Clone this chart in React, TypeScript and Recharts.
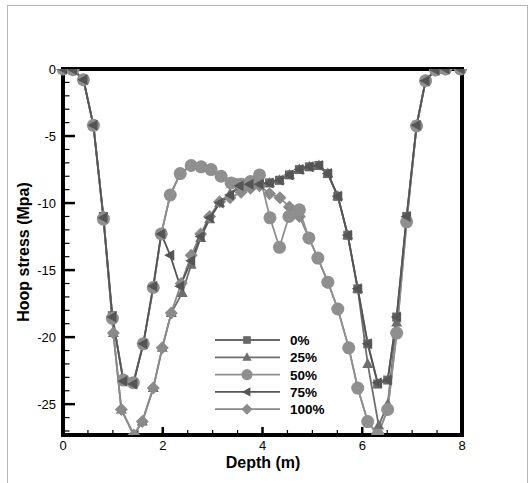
import React from 'react'
import { LineChart, Line, XAxis, YAxis, ReferenceArea, ReferenceLine } from 'recharts'

// depth (m) / hoop stress (MPa)
const depth0 = [0, 0.2, 0.41, 0.61, 0.81, 0.99, 1.21, 1.41, 1.61, 1.81, 1.97, 2.15, 2.35, 2.57, 2.77, 2.97, 3.17, 3.37, 3.54, 3.74, 3.94, 4.14, 4.34, 4.54, 4.74, 4.94, 5.13, 5.31, 5.51, 5.71, 5.91, 6.11, 6.31, 6.51, 6.69, 6.89, 7.09, 7.27, 7.47, 7.67, 7.97]
const stress0 = [0, -0.05, -0.8, -4.2, -11.0, -18.4, -23.2, -23.4, -20.5, -16.3, -12.3, -9.4, -7.8, -7.2, -7.3, -7.5, -8.0, -8.5, -8.5, -8.6, -8.6, -8.5, -8.3, -7.9, -7.5, -7.3, -7.2, -7.8, -9.5, -12.4, -16.4, -20.5, -23.5, -23.2, -18.5, -11.0, -4.2, -0.87, -0.07, 0, 0]

const depth25 = [0, 0.2, 0.41, 0.61, 0.81, 1.01, 1.17, 1.42, 1.59, 1.81, 1.99, 2.17, 2.39, 2.57, 2.76, 2.94, 3.14, 3.35, 3.54, 3.74, 3.94, 4.14, 4.34, 4.54, 4.74, 4.94, 5.13, 5.31, 5.51, 5.71, 5.91, 6.11, 6.33, 6.51, 6.69, 6.89, 7.09, 7.27, 7.47, 7.67, 7.97]
const stress25 = [0, -0.05, -0.8, -4.2, -11.0, -19.7, -25.4, -27.3, -26.3, -23.8, -20.8, -18.2, -16.7, -14.6, -12.6, -11.2, -10.0, -9.3, -8.8, -8.7, -8.6, -8.5, -8.3, -7.9, -7.5, -7.3, -7.2, -7.8, -9.5, -12.4, -16.4, -22.0, -26.6, -25.0, -18.9, -11.2, -4.2, -0.87, -0.07, 0, 0]

const depth50 = [0, 0.2, 0.41, 0.61, 0.81, 0.99, 1.21, 1.41, 1.61, 1.81, 1.97, 2.15, 2.35, 2.57, 2.77, 2.97, 3.17, 3.37, 3.57, 3.76, 3.94, 4.15, 4.34, 4.53, 4.74, 4.93, 5.11, 5.31, 5.51, 5.73, 5.91, 6.11, 6.31, 6.51, 6.69, 6.89, 7.09, 7.27, 7.47, 7.67, 7.97]
const stress50 = [0, -0.05, -0.8, -4.2, -11.2, -18.6, -23.2, -23.4, -20.5, -16.3, -12.3, -9.4, -7.8, -7.2, -7.3, -7.5, -8.0, -8.5, -8.6, -8.4, -7.9, -11.1, -13.3, -11.0, -10.5, -12.6, -14.1, -15.9, -17.9, -20.8, -23.8, -26.3, -27.3, -25.4, -19.7, -11.4, -4.25, -0.87, -0.07, 0, 0]

const depth75 = [0, 0.2, 0.41, 0.61, 0.81, 0.99, 1.21, 1.41, 1.61, 1.81, 1.97, 2.15, 2.35, 2.57, 2.76, 2.94, 3.14, 3.35, 3.54, 3.74, 3.94, 4.14, 4.34, 4.54, 4.74, 4.94, 5.13, 5.31, 5.51, 5.71, 5.91, 6.11, 6.31, 6.51, 6.69, 6.89, 7.09, 7.27, 7.47, 7.67, 7.97]
const stress75 = [0, -0.05, -0.8, -4.2, -11.1, -18.5, -23.3, -23.5, -20.5, -16.2, -12.3, -13.9, -16.2, -14.3, -12.5, -11.1, -10.0, -9.4, -8.7, -8.6, -8.6, -8.5, -8.3, -7.9, -7.5, -7.3, -7.2, -7.8, -9.5, -12.4, -16.4, -20.5, -23.4, -23.2, -18.5, -11.0, -4.2, -0.87, -0.07, 0, 0]

const depth100 = [0, 0.2, 0.41, 0.61, 0.81, 1.01, 1.17, 1.42, 1.59, 1.81, 1.99, 2.17, 2.37, 2.57, 2.76, 2.94, 3.14, 3.35, 3.57, 3.76, 3.94, 4.14, 4.35, 4.54, 4.74, 4.93, 5.11, 5.31, 5.51, 5.73, 5.91, 6.11, 6.31, 6.51, 6.69, 6.89, 7.09, 7.27, 7.47, 7.67, 7.97]
const stress100 = [0, -0.05, -0.8, -4.2, -11.0, -19.7, -25.4, -27.3, -26.3, -23.8, -20.8, -18.2, -16.0, -13.9, -12.3, -11.0, -9.9, -9.6, -9.2, -8.9, -8.7, -9.3, -9.6, -10.3, -11.0, -12.6, -14.1, -15.9, -17.9, -20.8, -23.8, -26.3, -27.3, -25.4, -19.7, -11.4, -4.25, -0.87, -0.07, 0, 0]

const xTicks = [0, 2, 4, 6, 8]
const yTicks = [0, -5, -10, -15, -20, -25]
const xMinor = [0.5, 1, 1.5, 2.5, 3, 3.5, 4.5, 5, 5.5, 6.5, 7, 7.5]
const yMinor = [-1, -2, -3, -4, -6, -7, -8, -9, -11, -12, -13, -14, -16, -17, -18, -19, -21, -22, -23, -24, -26, -27]

const Y_MIN = -27.3
const FONT = '"Liberation Sans", Arial, sans-serif'

type Shape = 'square' | 'triangle' | 'circle' | 'left' | 'diamond'

function Marker({ shape, cx, cy, color, s = 1 }: { shape: Shape; cx: number; cy: number; color: string; s?: number }) {
  if (cx == null || cy == null) return null
  if (shape === 'square') return <rect x={cx - 4.5 * s} y={cy - 4.5 * s} width={9 * s} height={9 * s} fill={color} />
  if (shape === 'triangle')
    return <polygon points={`${cx},${cy - 6 * s} ${cx - 5.5 * s},${cy + 4 * s} ${cx + 5.5 * s},${cy + 4 * s}`} fill={color} />
  if (shape === 'circle') return <circle cx={cx} cy={cy} r={6.5 * s} fill={color} />
  if (shape === 'left')
    return <polygon points={`${cx - 6 * s},${cy} ${cx + 4 * s},${cy - 5.5 * s} ${cx + 4 * s},${cy + 5.5 * s}`} fill={color} />
  return <polygon points={`${cx},${cy - 6.5 * s} ${cx + 6.5 * s},${cy} ${cx},${cy + 6.5 * s} ${cx - 6.5 * s},${cy}`} fill={color} />
}

const zip = (xs: number[], ys: number[]) => xs.map((x, i) => ({ x, y: ys[i] }))

// drawing order, bottom to top
const series = [
  { name: '25%', data: zip(depth25, stress25), shape: 'triangle' as Shape, color: '#6e6e6e' },
  { name: '0%', data: zip(depth0, stress0), shape: 'square' as Shape, color: '#686868' },
  { name: '100%', data: zip(depth100, stress100), shape: 'diamond' as Shape, color: '#8a8a8a' },
  { name: '50%', data: zip(depth50, stress50), shape: 'circle' as Shape, color: '#8f8f8f' },
  { name: '75%', data: zip(depth75, stress75), shape: 'left' as Shape, color: '#555555' },
]

const legendOrder = ['0%', '25%', '50%', '75%', '100%']

export default function App() {
  return (
    <div style={{ position: 'absolute', left: 0, top: 0, width: 532, height: 483, background: '#fff', overflow: 'hidden', fontFamily: FONT }}>
      <LineChart width={532} height={483} margin={{ top: 69, right: 70, bottom: 8, left: 8 }}>
        <XAxis
          type="number"
          dataKey="x"
          domain={[0, 8]}
          ticks={xTicks}
          axisLine={false}
          tickLine={false}
          tickSize={0}
          tickMargin={6}
          height={40}
          tick={{ fontSize: 13, fill: '#000', fontFamily: FONT }}
        />
        <YAxis
          type="number"
          dataKey="y"
          domain={[Y_MIN, 0]}
          allowDataOverflow
          ticks={yTicks}
          axisLine={false}
          tickLine={false}
          tickSize={0}
          tickMargin={7}
          width={55}
          tick={{ fontSize: 13, fill: '#000', fontFamily: FONT }}
        />
        <ReferenceArea x1={0} x2={8} y1={Y_MIN} y2={0} fill="none" stroke="#000" strokeWidth={4} ifOverflow="visible" />
        {yTicks.slice(1).map((v) => (
          <ReferenceLine key={'ym' + v} segment={[{ x: 0, y: v }, { x: 0.24, y: v }]} stroke="#000" strokeWidth={2.5} ifOverflow="visible" />
        ))}
        {yMinor.map((v) => (
          <ReferenceLine key={'yn' + v} segment={[{ x: 0, y: v }, { x: 0.13, y: v }]} stroke="#000" strokeWidth={1.2} ifOverflow="visible" />
        ))}
        {xTicks.slice(1, -1).map((v) => (
          <ReferenceLine key={'xm' + v} segment={[{ x: v, y: Y_MIN }, { x: v, y: Y_MIN + 0.6 }]} stroke="#000" strokeWidth={2.5} ifOverflow="visible" />
        ))}
        {xMinor.map((v) => (
          <ReferenceLine key={'xn' + v} segment={[{ x: v, y: Y_MIN }, { x: v, y: Y_MIN + 0.37 }]} stroke="#000" strokeWidth={1.2} ifOverflow="visible" />
        ))}
        {series.map((s) => (
          <Line
            key={s.name}
            data={s.data}
            dataKey="y"
            name={s.name}
            type="linear"
            stroke={s.color}
            strokeWidth={1.8}
            isAnimationActive={false}
            dot={(p: any) => <Marker key={s.name + p.index} shape={s.shape} cx={p.cx} cy={p.cy} color={s.color} />}
            activeDot={false}
          />
        ))}
      </LineChart>

      <svg width={532} height={483} style={{ position: 'absolute', left: 0, top: 0, pointerEvents: 'none' }}>
        <rect x={7.5} y={5.5} width={520} height={500} fill="none" stroke="#b5b5b5" strokeWidth={1} />
        <text x={263} y={468} textAnchor="middle" fontSize={16} fontWeight="bold" fontFamily={FONT} fill="#000">
          Depth (m)
        </text>
        <text
          x={0}
          y={0}
          transform="translate(23,252) rotate(-90)"
          textAnchor="middle"
          dominantBaseline="central"
          fontSize={16}
          fontWeight="bold"
          fontFamily={FONT}
          fill="#000"
        >
          Hoop stress (Mpa)
        </text>
        {legendOrder.map((name, i) => {
          const s = series.find((d) => d.name === name)!
          const y = 340 + i * 17.3
          return (
            <g key={name}>
              <line x1={215} x2={280} y1={y} y2={y} stroke={s.color} strokeWidth={1.8} />
              <Marker shape={s.shape} cx={247} cy={y} color={s.color} s={0.85} />
              <text x={290} y={y + 5} fontSize={13.5} fontWeight="bold" fontFamily={FONT} fill="#000">
                {name}
              </text>
            </g>
          )
        })}
      </svg>
    </div>
  )
}
